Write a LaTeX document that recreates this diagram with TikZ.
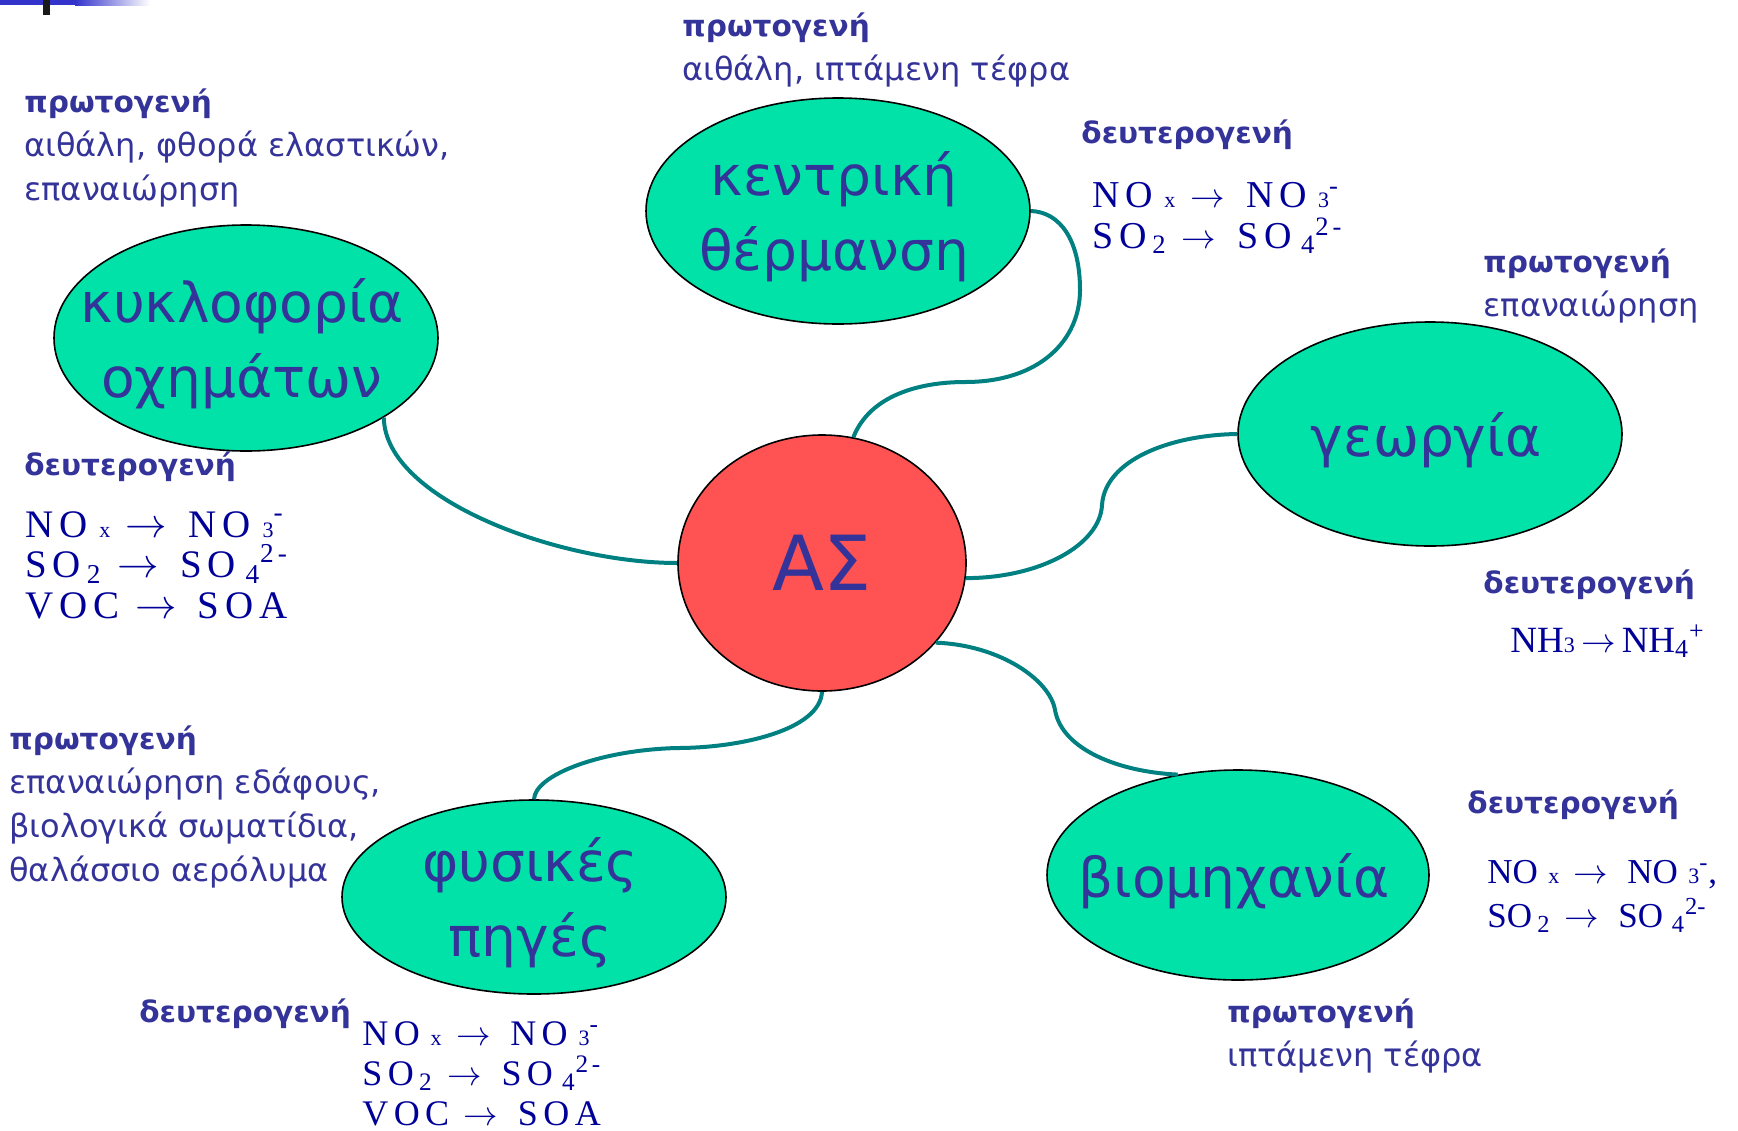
\documentclass[tikz,border=0pt]{standalone}
\usepackage{fontspec}
\setmainfont{DejaVu Sans}
\newfontfamily\chemwide[LetterSpace=15]{Liberation Serif}
\newfontfamily\chemtight{Liberation Serif}
\usetikzlibrary{shapes.geometric}
\setlength{\lineskiplimit}{-30pt}

\definecolor{srcgreen}{RGB}{0,226,168}
\definecolor{asred}{RGB}{255,82,82}
\definecolor{linkteal}{RGB}{0,128,128}
\definecolor{txtblue}{RGB}{51,51,153}
\definecolor{chemblue}{RGB}{0,0,153}
\definecolor{barblue}{RGB}{51,51,204}

\newcommand{\hd}[1]{{\bfseries\fontsize{14.8}{22}\selectfont #1}}
\newcommand{\chsmall}[1]{{\fontsize{11}{11}\selectfont #1}}
\newcommand{\chto}{\kern.4em$\rightarrow$\kern.55em}
\newcommand{\noxline}{NO\kern.3em\chsmall{x}\chto NO\kern.3em\chsmall{3}\textsuperscript{-}}
\newcommand{\soxline}{SO\kern.15em\textsubscript{2}\chto SO\kern.25em\textsubscript{4}\textsuperscript{2-}}
\newcommand{\vocline}{VOC\chto SOA}

\tikzset{
  src/.style={ellipse, draw=black, line width=0.8pt, fill=srcgreen, inner sep=0pt,
    minimum width=192pt, minimum height=113pt},
  srctext/.style={text=txtblue, align=center, yshift=-3pt, xshift=-2pt,
    font=\fontsize{27.5}{37.5}\selectfont},
  info/.style={anchor=base west, inner sep=0pt, text=txtblue, align=left,
    font=\fontsize{16}{22}\selectfont},
  chem/.style 2 args={anchor=base west, inner sep=0pt, text=chemblue, align=left,
    font=\chemwide\fontsize{#1}{#2}\selectfont},
  chemplain/.style 2 args={anchor=base west, inner sep=0pt, text=chemblue, align=left,
    font=\chemtight\fontsize{#1}{#2}\selectfont},
  link/.style={draw=linkteal, line width=2pt},
}

\begin{document}
\begin{tikzpicture}[x=0.5pt, y=-0.5pt]
\useasboundingbox (0,0) rectangle (1738,1130);

\fill[barblue] (0,0) rectangle (75,5);
\shade[left color=barblue, right color=white] (75,0) rectangle (150,5);
\fill[black!90] (43,0) rectangle (50,15);

\node[ellipse, draw=black, line width=0.8pt, fill=asred, inner sep=0pt,
  minimum width=144pt, minimum height=128pt, text=txtblue,
  font=\fontsize{38}{40}\selectfont] (as) at (822,563) {ΑΣ};

\node[src, label={[srctext]center:{κεντρική\\θέρμανση}}] (kentr) at (838,211) {};
\node[src, label={[srctext]center:{κυκλοφορία\\οχημάτων}}] (kykl) at (246,338) {};
\node[src, minimum height=112pt, label={[srctext]center:{γεωργία}}] (geo) at (1430,434) {};
\node[src, minimum width=191pt, minimum height=105pt,
  label={[srctext]center:{βιομηχανία}}] (bio) at (1238,875) {};
\node[src, minimum height=97pt, label={[srctext]center:{φυσικές\\πηγές}}] (fys) at (534,897) {};

\draw[link] (as.76) .. controls (870,395) and (920,382) .. (965,382)
  .. controls (1040,382) and (1080,340) .. (1080,290)
  .. controls (1080,240) and (1060,212) .. (kentr.east);
\draw[link] (kykl.-30) .. controls (385,500) and (560,563) .. (as.west);
\draw[link] (as.-6) .. controls (1040,578) and (1100,545) .. (1102,505)
  .. controls (1105,460) and (1170,435) .. (geo.west);
\draw[link] (as.-35) .. controls (1000,645) and (1050,680) .. (1055,710)
  .. controls (1062,750) and (1120,772) .. (bio.121);
\draw[link] (as.south) .. controls (820,730) and (740,748) .. (677,748)
  .. controls (600,750) and (535,775) .. (fys.north);

\node[info] (kentrprim) at (682,80) {\hd{πρωτογενή}\\αιθάλη, ιπτάμενη τέφρα};
\node[info] (kentrsec) at (1081,143) {\hd{δευτερογενή}};
\node[chem={19}{20.5}] (kentrchem) at (1092,248) {\noxline\\\soxline};

\node[info] (kyklprim) at (24,200) {\hd{πρωτογενή}\\αιθάλη, φθορά ελαστικών,\\επαναιώρηση};
\node[info] (kyklsec) at (24,475) {\hd{δευτερογενή}};
\node[chem={19.5}{20.25}] (kyklchem) at (25,618) {\noxline\\\soxline\\\vocline};

\node[info] (geoprim) at (1483,316) {\hd{πρωτογενή}\\επαναιώρηση};
\node[info] (geosec) at (1483,593) {\hd{δευτερογενή}};
\node[chemplain={18.5}{20}] (geochem) at (1510,652)
  {NH\chsmall{3}\,$\rightarrow$\,NH\textsubscript{4}\textsuperscript{+}};

\node[info] (biosec) at (1467,813) {\hd{δευτερογενή}};
\node[chemplain={17.5}{22}] (biochem) at (1487,927) {\noxline,\\\soxline};
\node[info] (bioprim) at (1227,1066) {\hd{πρωτογενή}\\ιπτάμενη τέφρα};

\node[info] (fysprim) at (9,881) {\hd{πρωτογενή}\\επαναιώρηση εδάφους,\\βιολογικά σωματίδια,\\θαλάσσιο αερόλυμα};
\node[info] (fyssec) at (139,1022) {\hd{δευτερογενή}};
\node[chem={18}{20}] (fyschem) at (362,1125) {\noxline\\\soxline\\\vocline};
\end{tikzpicture}
\end{document}
